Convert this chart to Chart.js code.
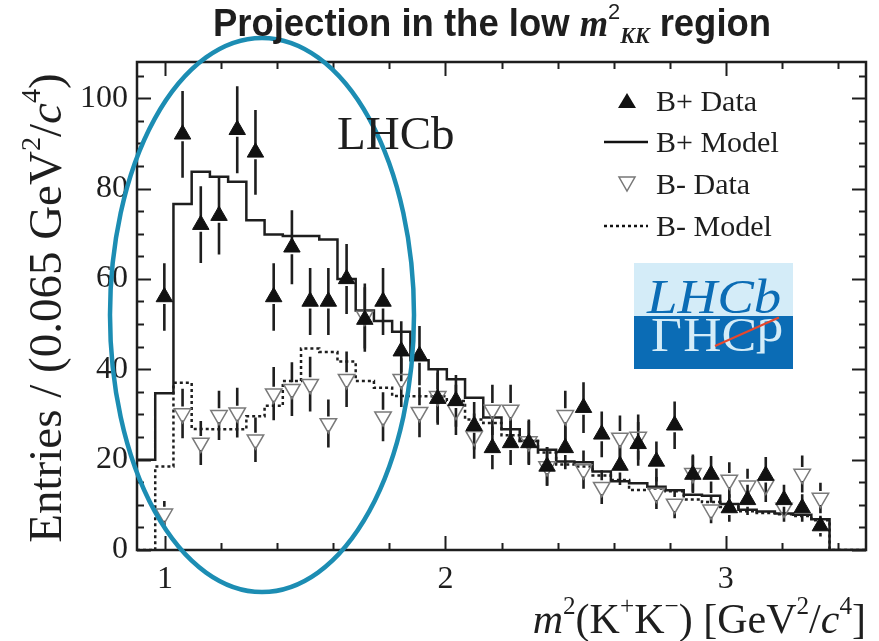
<!DOCTYPE html>
<html>
<head>
<meta charset="utf-8">
<script src="https://cdn.jsdelivr.net/npm/chart.js@4.4.0/dist/chart.umd.min.js"></script>
<style>
  body { margin: 0; background: #fff; }
  #wrap { position: relative; width: 879px; height: 641px; overflow: hidden; color: #1e1e1e; font-family: "Liberation Serif", serif; }
  #plot { position: absolute; left: 0; top: 0; }
  .txt { position: absolute; white-space: nowrap; }
  sup, sub { font-size: 0.6em; line-height: 0; }
  sup { vertical-align: 0.75em; }
  sub { vertical-align: -0.3em; }
  #title { left: 0; width: 984px; text-align: center; top: 4px; font: bold 38px "Liberation Sans", sans-serif; line-height: 38px; transform: scaleX(0.96); }
  #title i { font-family: "Liberation Serif", serif; }
  #title sup { font-weight: normal; }
  #ytitle { width: 600px; height: 52px; line-height: 52px; font-size: 47px; text-align: center; left: -255px; top: 282px; transform: rotate(-90deg); }
  #xtitle { right: 13px; top: 597px; font-size: 42px; line-height: 44px; }
  #lhcb { left: 337px; top: 110px; font-size: 47px; line-height: 47px; }
  .leg { left: 656px; font-size: 30px; line-height: 30px; }
  .sym { position: absolute; }
  #logo { position: absolute; left: 634px; top: 263px; width: 159px; height: 106px; overflow: hidden; }
  #logo .top { position: absolute; left: 0; top: 0; width: 159px; height: 53px; background: #d4ecf8; }
  #logo .bot { position: absolute; left: 0; top: 53px; width: 159px; height: 53px; background: #0b6cb5; }
  #logo .word { position: absolute; left: 13px; top: 9px; font: italic 49px "Liberation Serif", serif; line-height: 49px; color: #0b6cb5; transform: scaleX(1.12); transform-origin: left top; }
  #logo .mirror { color: #d4ecf8; font-style: normal; transform: scaleX(1.08) scaleY(-1); transform-origin: left 44px; top: 9px; left: 17px; }
  #logo .slash { position: absolute; left: 81px; top: 82px; width: 70px; height: 2px; background: #e8472c; transform: rotate(-24deg); transform-origin: left center; }
</style>
</head>
<body>
<div id="wrap">
  <canvas id="plot" width="879" height="641"></canvas>
  <div id="title" class="txt">Projection in the low <i>m</i><sup>2</sup><sub><i>KK</i></sub> region</div>
  <div id="ytitle" class="txt">Entries / (0.065 GeV<sup>2</sup>/<i>c</i><sup>4</sup>)</div>
  <div id="xtitle" class="txt"><i>m</i><sup>2</sup>(K<sup>+</sup>K<sup>&minus;</sup>) [GeV<sup>2</sup>/<i>c</i><sup>4</sup>]</div>
  <div id="lhcb" class="txt">LHCb</div>

  <svg class="sym" style="left:600px;top:88px" width="52" height="150">
    <polygon points="27,5 36,20 18,20" fill="#111"/>
    <line x1="4" y1="54" x2="48" y2="54" stroke="#111" stroke-width="2.5"/>
    <polygon points="19,89 35,89 27,103" fill="none" stroke="#777" stroke-width="1.5"/>
    <line x1="4" y1="138" x2="48" y2="138" stroke="#111" stroke-width="2.5" stroke-dasharray="3,3"/>
  </svg>
  <div class="txt leg" style="top:86px">B+ Data</div>
  <div class="txt leg" style="top:127px">B+ Model</div>
  <div class="txt leg" style="top:169px">B- Data</div>
  <div class="txt leg" style="top:211px">B- Model</div>

  <div id="logo">
    <div class="top"></div>
    <div class="bot"></div>
    <span class="word">LHCb</span>
    <span class="word mirror">LHCb</span>
    <div class="slash"></div>
  </div>
</div>

<script>
// histogram binning (GeV^2/c^4)
const binWidth = 0.065
const xMin = 0.9
const xMax = 3.5
const yMax = 108

const yTickLabels = [0, 20, 40, 60, 80, 100]
const xTickLabels = [1, 2, 3]

// entries per bin, 40 bins from 0.9 to 3.5 (null = no point drawn)
const bPlusData = [null, 56, 92, 72, 74, 93, 88, 56, 67, 55,
                   55, 60, 51, 55, 44, 43, 33.5, 33, 27.5, 22.6,
                   23.7, 23.7, 18.5, 22.6, 31.5, 25.6, 18.7, 23.5, 19.6, 27.6,
                   16.7, 16.7, 9.3, 11.1, 16.5, 11.1, 9.3, 5.3, null, null]

const bMinusData = [null, 8, 30.2, 23.7, 29.8, 30.4, 24.4, 34.6, 35.6, 36.7,
                    28, 37.8, 51.8, 29.5, 37.8, 30.5, 34, 31, 25.2, 31,
                    31, 24, 18.5, 29.8, 17.8, 13.9, 24.8, 25, 12.6, 10.2,
                    17, 8.9, 15.5, 14.2, 14.4, 9.3, 16.8, 11.5, null, null]

const bPlusModel = [20, 34.7, 76.6, 83.7, 82.6, 81.5, 73, 69.8, 69.5, 69.5,
                    68.7, 60, 53, 50.7, 48.3, 42, 40, 37.8, 33.7, 29.3,
                    26.7, 24.1, 22.2, 19.6, 19.4, 17.4, 15.2, 14.8, 14, 13.2,
                    12.2, 12, 10.2, 8.9, 8.5, 8.1, 7.8, 6.8, 0, 0]

const bMinusModel = [0, 18.5, 37, 26.8, 26.7, 26.7, 29.6, 31.9, 37.4, 44.6,
                     43.8, 41.7, 37.4, 35.9, 34.1, 34, 34, 33, 28.9, 28.1,
                     25.4, 24.1, 21.6, 18.9, 18.5, 16.5, 15.5, 13.3, 13.6, 13,
                     11.2, 10.6, 9.5, 8.6, 8.2, 7.9, 7.5, 6.6, 0, 0]

const edges = bPlusModel.map((_, i) => +(xMin + i * binWidth).toFixed(4))
const centres = edges.map(e => +(e + binWidth / 2).toFixed(4))

function points(values) {
    return values.map((v, i) => v === null ? null : {x: centres[i], y: v}).filter(p => p)
}

function steps(values) {
    const pts = values.map((v, i) => ({x: edges[i], y: v}))
    pts.push({x: xMax, y: values[values.length - 1]})   // close the last bin
    return pts
}

const ink = '#1e1e1e'
const serif = '"Liberation Serif", serif'

// sqrt(N) error bars, with a gap where the marker sits
const errorBars = {
    id: 'errorBars',
    beforeDatasetsDraw(chart) {
        const {ctx, chartArea: a, scales: {x, y}} = chart
        ctx.save()
        ctx.beginPath()
        ctx.rect(a.left, a.top, a.right - a.left, a.bottom - a.top)
        ctx.clip()
        ctx.strokeStyle = ink
        ctx.lineWidth = 2.6
        chart.data.datasets.forEach(ds => {
            if (!ds.errorBars) return
            ds.data.forEach(p => {
                const px = x.getPixelForValue(p.x)
                const py = y.getPixelForValue(p.y)
                const e = Math.sqrt(p.y)
                const gap = 7
                ctx.beginPath()
                ctx.moveTo(px, y.getPixelForValue(p.y + e))
                ctx.lineTo(px, py - gap)
                ctx.moveTo(px, py + gap)
                ctx.lineTo(px, y.getPixelForValue(Math.max(p.y - e, 0)))
                ctx.stroke()
            })
        })
        ctx.restore()
    }
}

// ROOT-style frame with inward ticks on all four sides
const frameTicks = {
    id: 'frameTicks',
    afterDatasetsDraw(chart) {
        const {ctx, chartArea: a, scales: {x, y}} = chart
        ctx.save()
        ctx.strokeStyle = ink
        ctx.lineWidth = 2
        ctx.beginPath()
        for (let v = 0; v <= yMax; v += 5) {
            const py = Math.round(y.getPixelForValue(v)) + 0.5
            const len = v % 20 === 0 ? 14 : 7
            ctx.moveTo(a.left, py); ctx.lineTo(a.left + len, py)
            ctx.moveTo(a.right, py); ctx.lineTo(a.right - len, py)
        }
        for (let i = 5; i <= 17; i++) {
            const px = Math.round(x.getPixelForValue(i * 0.2)) + 0.5
            const len = i % 5 === 0 ? 14 : 7
            ctx.moveTo(px, a.bottom); ctx.lineTo(px, a.bottom - len)
            ctx.moveTo(px, a.top); ctx.lineTo(px, a.top + len)
        }
        ctx.stroke()
        ctx.lineWidth = 2.5
        ctx.strokeRect(a.left, a.top, a.right - a.left, a.bottom - a.top)
        ctx.restore()
    }
}

// highlight around the low-mass region
const highlight = {
    id: 'highlight',
    afterDraw(chart) {
        const ctx = chart.ctx
        ctx.save()
        ctx.strokeStyle = '#1c8db3'
        ctx.lineWidth = 4.5
        ctx.beginPath()
        ctx.ellipse(262, 315, 152, 277, 0, 0, Math.PI * 2)
        ctx.stroke()
        ctx.restore()
    }
}

new Chart(document.getElementById('plot'), {
    type: 'scatter',
    data: {
        datasets: [
            {
                label: 'B+ Data',
                data: points(bPlusData),
                errorBars: true,
                pointStyle: 'triangle',
                radius: 9.5,
                backgroundColor: '#111',
                borderColor: '#111',
                borderWidth: 1
            },
            {
                label: 'B- Data',
                data: points(bMinusData),
                errorBars: true,
                pointStyle: 'triangle',
                rotation: 180,
                radius: 9.5,
                backgroundColor: 'rgba(255,255,255,0)',
                borderColor: '#7a7a7a',
                borderWidth: 1.5
            },
            {
                label: 'B+ Model',
                type: 'line',
                data: steps(bPlusModel),
                stepped: true,
                borderColor: ink,
                borderWidth: 2.5,
                pointRadius: 0,
                fill: false
            },
            {
                label: 'B- Model',
                type: 'line',
                data: steps(bMinusModel),
                stepped: true,
                borderColor: ink,
                borderWidth: 2.5,
                borderDash: [3, 3],
                pointRadius: 0,
                fill: false
            }
        ]
    },
    options: {
        responsive: false,
        animation: false,
        layout: {padding: {left: 0, right: 13, top: 62, bottom: 0}},
        plugins: {legend: {display: false}, tooltip: {enabled: false}},
        scales: {
            x: {
                type: 'linear',
                min: xMin,
                max: xMax,
                grid: {display: false, drawTicks: false},
                border: {display: false},
                afterBuildTicks: s => { s.ticks = xTickLabels.map(v => ({value: v})) },
                afterFit: s => { s.height = 91 },
                ticks: {padding: 10, color: ink, font: {family: serif, size: 32}}
            },
            y: {
                min: 0,
                max: yMax,
                grid: {display: false, drawTicks: false},
                border: {display: false},
                afterBuildTicks: s => { s.ticks = yTickLabels.map(v => ({value: v})) },
                afterFit: s => { s.width = 137 },
                ticks: {padding: 9, color: ink, font: {family: serif, size: 32}}
            }
        }
    },
    plugins: [errorBars, frameTicks, highlight]
})
</script>
</body>
</html>
